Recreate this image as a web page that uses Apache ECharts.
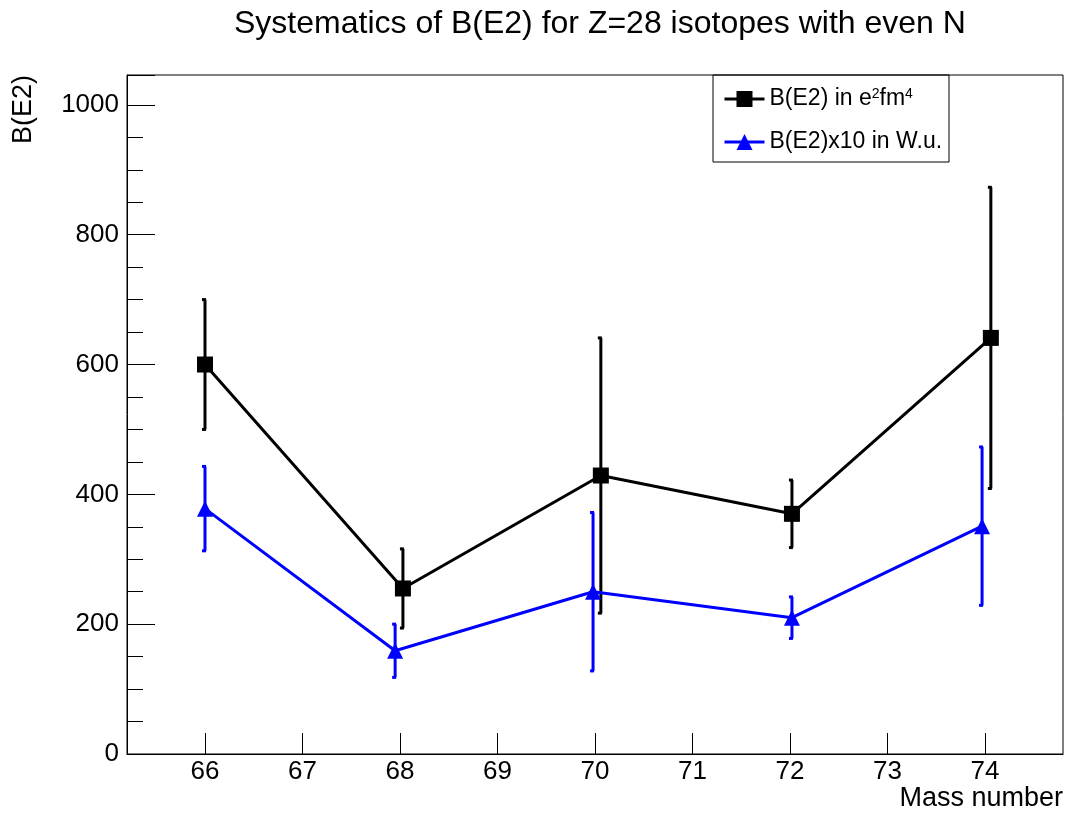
<!DOCTYPE html>
<html><head><meta charset="utf-8">
<script src="https://cdn.jsdelivr.net/npm/echarts@6/dist/echarts.min.js"></script>
<style>html,body{margin:0;padding:0;background:#fff}#c{width:1069px;height:814px}</style>
</head><body><div id="c"></div>
<script>
// Data
const blackX = [66, 68.03, 70.06, 72.02, 74.06];
const blackY = [600, 255, 429, 370, 641];
const blackErr = [100, 61, 212, 52, 232];
const blueX = [66, 67.95, 69.98, 72.02, 73.97];
const blueY = [378, 159, 250, 210, 351];
const blueErr = [65, 41, 122, 32, 122];
const xTicks = [66, 67, 68, 69, 70, 71, 72, 73, 74];
const seriesNames = ['B(E2) in e2fm4', 'B(E2)x10 in W.u.'];

const F = 'Liberation Sans, Arial, Helvetica, sans-serif';
function pts(xs, ys){ return xs.map((x,i)=>[x, ys[i]]); }
function errData(xs, ys, es){ return xs.map((x,i)=>[x, ys[i]-es[i], ys[i]+es[i]]); }
function errRender(color){
  return function(params, api){
    const lo = api.coord([api.value(0), api.value(1)]);
    const hi = api.coord([api.value(0), api.value(2)]);
    const st = {stroke: color, lineWidth: 3};
    return {type:'group', children:[
      {type:'line', shape:{x1:lo[0], y1:lo[1], x2:hi[0], y2:hi[1]}, style:st},
      {type:'line', shape:{x1:lo[0]-3, y1:lo[1], x2:lo[0]+1, y2:lo[1]}, style:st},
      {type:'line', shape:{x1:hi[0]-3, y1:hi[1], x2:hi[0]+1, y2:hi[1]}, style:st}
    ]};
  };
}
const chart = echarts.init(document.getElementById('c'), null, {renderer:'canvas'});
chart.setOption({
  animation: false,
  backgroundColor: '#fff',
  title: {text: 'Systematics of B(E2) for Z=28 isotopes with even N', left: 229, top: 3,
    textStyle: {fontFamily: F, fontSize: 32, fontWeight: 'normal', color: '#000'}},
  grid: {left: 127, right: 6, top: 75, bottom: 60, show: true, borderColor: '#000', borderWidth: 1},
  legend: {
    left: 718, top: 82, orient: 'vertical', itemWidth: 40, itemHeight: 20, itemGap: 20,
    data: seriesNames,
    lineStyle: {width: 3},
    formatter: function(n){ return n === seriesNames[0] ? '{a|B(E2) in e}{s|2}{a|fm}{s|4}' : '{a|B(E2)x10 in W.u.}'; },
    textStyle: {fontFamily: F, fontSize: 23, color: '#000',
      rich: {a: {fontFamily: F, fontSize: 23, color: '#000'}, s: {fontFamily: F, fontSize: 14, color: '#000', verticalAlign: 'top', padding:[0,0,10,0]}}}
  },
  graphic: [{type: 'rect', shape: {x: 713, y: 75, width: 236, height: 87}, style: {fill: 'none', stroke: '#000', lineWidth: 1}, z: 100}],
  xAxis: {type: 'value', min: 65.2, max: 74.8,
    name: 'Mass number', nameLocation: 'end', nameGap: 0,
    nameTextStyle: {fontFamily: F, fontSize: 27, color: '#000', align: 'right', verticalAlign: 'top', padding: [31, 0, 0, 0]},
    axisLine: {lineStyle: {color: '#000', width: 1}},
    axisTick: {inside: true, length: 21, lineStyle: {color: '#000'}, customValues: xTicks},
    axisLabel: {fontFamily: F, fontSize: 26, color: '#000', margin: 5, customValues: xTicks,
      formatter: v => String(Math.round(v))},
    splitLine: {show: false}},
  yAxis: {type: 'value', min: 0, max: 1046, interval: 200,
    name: 'B(E2)', nameLocation: 'end', nameRotate: 90, nameGap: 0,
    nameTextStyle: {fontFamily: F, fontSize: 27, color: '#000', align: 'right', verticalAlign: 'bottom', padding: [0, 0, 90, 0]},
    axisLine: {show: true, lineStyle: {color: '#000', width: 1}},
    axisTick: {inside: true, length: 28, lineStyle: {color: '#000'}},
    minorTick: {show: true, splitNumber: 4, length: 16, lineStyle: {color: '#000'}},
    axisLabel: {fontFamily: F, fontSize: 26, color: '#000', margin: 8, showMaxLabel: false, formatter: v => String(v)},
    splitLine: {show: false}},
  series: [
    {type: 'custom', name: 'errBlack', data: errData(blackX, blackY, blackErr), renderItem: errRender('#000'), z: 2, encode:{x:0, y:[1,2]}},
    {type: 'line', name: seriesNames[0], data: pts(blackX, blackY), color: '#000', symbol: 'rect', symbolSize: 16,
      lineStyle: {color: '#000', width: 3}, itemStyle: {color: '#000'}, z: 3},
    {type: 'custom', name: 'errBlue', data: errData(blueX, blueY, blueErr), renderItem: errRender('#0000ff'), z: 4, encode:{x:0, y:[1,2]}},
    {type: 'line', name: seriesNames[1], data: pts(blueX, blueY), color: '#0000ff', symbol: 'triangle', symbolSize: 16,
      lineStyle: {color: '#0000ff', width: 3}, itemStyle: {color: '#0000ff'}, z: 5}
  ]
});
</script></body></html>
